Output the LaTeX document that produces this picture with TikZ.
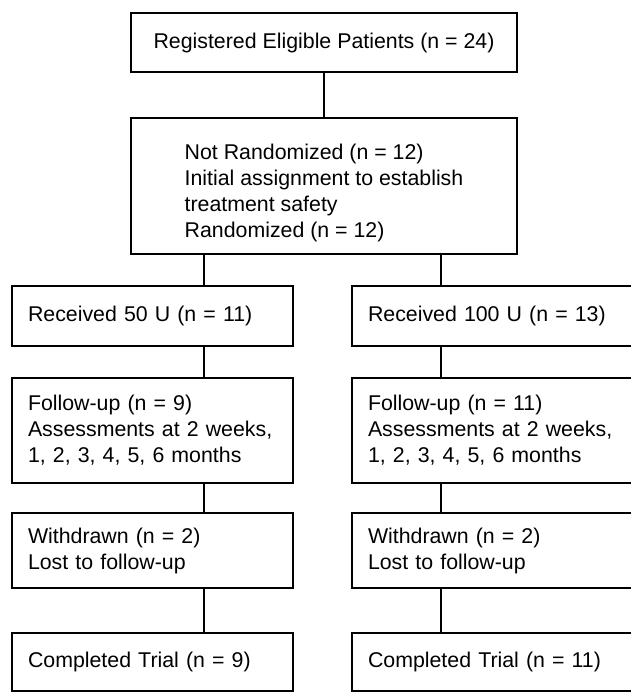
\documentclass[tikz,border=0pt]{standalone}
\usepackage{fontspec}
\setmainfont{Liberation Sans}
\usetikzlibrary{calc}
\tikzset{
  box/.style={draw=black, line width=1.4pt, inner sep=0pt, font=\fontsize{16}{19.5}\selectfont},
  wide/.style={box, minimum width=289.5pt, align=left},
  arm/.style={box, text width=#1, inner xsep=12pt, align=left},
  link/.style={draw=black, line width=1.4pt},
}
\begin{document}
\begin{tikzpicture}[x=0.75pt,y=-0.75pt]
  \useasboundingbox (0,0) rectangle (631,694);

  \node[wide, minimum height=44.25pt] (reg) at (324,42.5) {Registered Eligible Patients (n = 24)};
  % strut on the first line pushes the block a little lower, as printed
  \node[wide, minimum height=102pt] (rand) at (324,186)
    {\rule{0pt}{21.5pt}Not Randomized (n = 12)\\Initial assignment to establish\\treatment safety\\Randomized (n = 12)};

  % 50 U arm
  \node[arm=186.75pt, minimum height=45pt] (rec50) at (152.5,316) {Received 50 U (n = 11)};
  \node[arm=186.75pt, minimum height=78.75pt] (fu50) at (152.5,430.5)
    {Follow-up (n = 9)\\Assessments at 2 weeks,\\1, 2, 3, 4, 5, 6 months};
  \node[arm=186.75pt, minimum height=56.25pt] (wd50) at (152.5,550.5) {Withdrawn (n = 2)\\Lost to follow-up};
  \node[arm=186.75pt, minimum height=43.5pt] (done50) at (152.5,662) {Completed Trial (n = 9)};

  % 100 U arm
  \node[arm=192pt, minimum height=45pt] (rec100) at (496,316) {Received 100 U (n = 13)};
  \node[arm=192pt, minimum height=78.75pt] (fu100) at (496,430.5)
    {Follow-up (n = 11)\\Assessments at 2 weeks,\\1, 2, 3, 4, 5, 6 months};
  \node[arm=192pt, minimum height=56.25pt] (wd100) at (496,550.5) {Withdrawn (n = 2)\\Lost to follow-up};
  \node[arm=192pt, minimum height=43.5pt] (done100) at (496,662) {Completed Trial (n = 11)};

  \coordinate (lx) at (204,0);
  \coordinate (rx) at (441,0);
  \draw[link] (reg) -- (rand);
  \foreach \a/\b in {rand/rec50, rec50/fu50, fu50/wd50, wd50/done50}
    \draw[link] (\a.south -| lx) -- (\b.north -| lx);
  \foreach \a/\b in {rand/rec100, rec100/fu100, fu100/wd100, wd100/done100}
    \draw[link] (\a.south -| rx) -- (\b.north -| rx);
\end{tikzpicture}
\end{document}
